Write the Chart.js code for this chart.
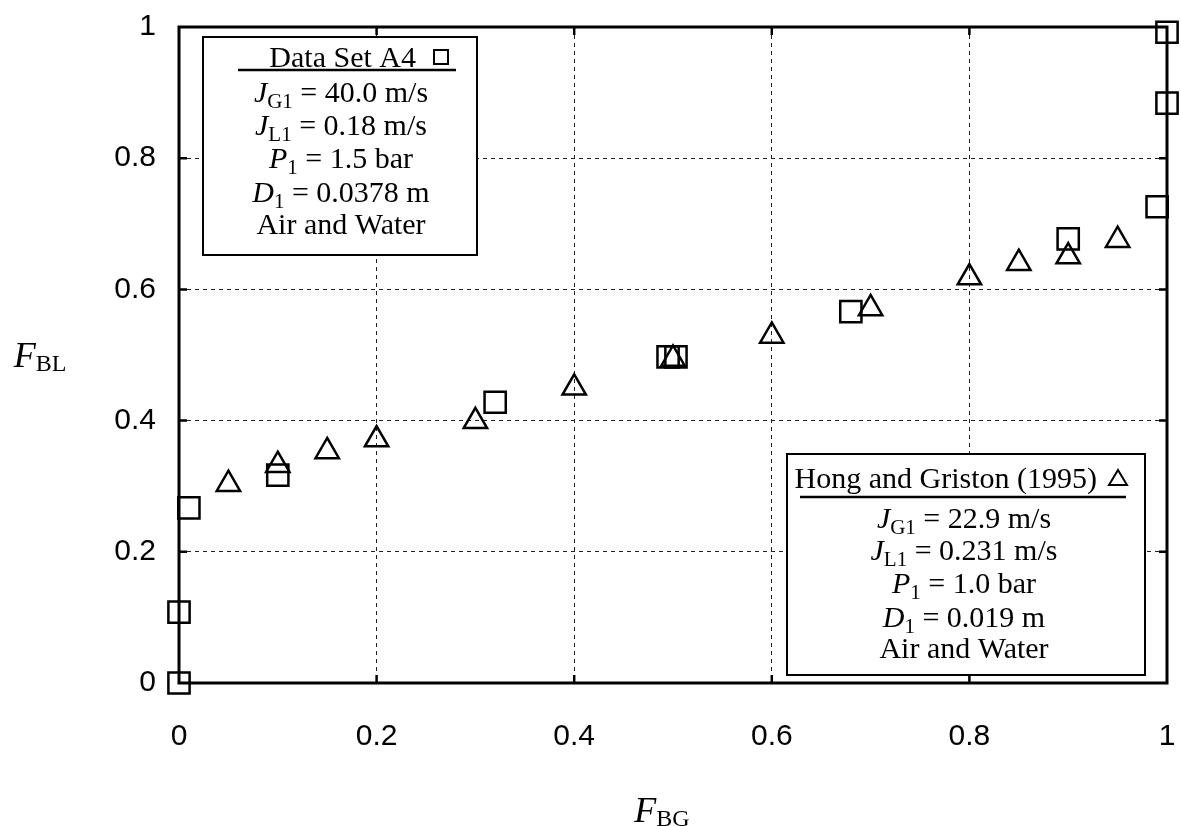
<!DOCTYPE html>
<html>
<head>
<meta charset="utf-8">
<script src="https://cdn.jsdelivr.net/npm/chart.js@4/dist/chart.umd.min.js"></script>
<style>
  body { margin: 0; background: #fff; }
</style>
</head>
<body>
<canvas id="chart" width="1181" height="826"></canvas>
<script>
// Data Set A4 (squares)
var a4X = [0, 0, 0.01, 0.1, 0.32, 0.495, 0.503, 0.68, 0.90, 0.99, 1.0, 1.0];
var a4Y = [0, 0.108, 0.267, 0.317, 0.428, 0.497, 0.497, 0.566, 0.677, 0.726, 0.884, 0.992];
// Hong and Griston (1995) (triangles)
var hgX = [0.05, 0.1, 0.15, 0.2, 0.3, 0.4, 0.5, 0.6, 0.7, 0.8, 0.85, 0.9, 0.95];
var hgY = [0.303, 0.332, 0.353, 0.371, 0.399, 0.450, 0.494, 0.529, 0.571, 0.618, 0.640, 0.650, 0.675];

var tickValues = [0, 0.2, 0.4, 0.6, 0.8, 1];
var tickLabels = ['0', '0.2', '0.4', '0.6', '0.8', '1'];

var box1Title = 'Data Set A4';
var box1Lines = [
  [['J', 'i'], ['G1', 's'], [' = 40.0 m/s', 'n']],
  [['J', 'i'], ['L1', 's'], [' = 0.18 m/s', 'n']],
  [['P', 'i'], ['1', 's'], [' = 1.5 bar', 'n']],
  [['D', 'i'], ['1', 's'], [' = 0.0378 m', 'n']],
  [['Air and Water', 'n']]
];
var box2Title = 'Hong and Griston (1995)';
var box2Lines = [
  [['J', 'i'], ['G1', 's'], [' = 22.9 m/s', 'n']],
  [['J', 'i'], ['L1', 's'], [' = 0.231 m/s', 'n']],
  [['P', 'i'], ['1', 's'], [' = 1.0 bar', 'n']],
  [['D', 'i'], ['1', 's'], [' = 0.019 m', 'n']],
  [['Air and Water', 'n']]
];

function pts(xs, ys) {
  return xs.map(function(x, i) { return {x: x, y: ys[i]}; });
}

var SERIF = '"Liberation Serif", "Times New Roman", serif';
var fonts = {
  i: 'italic 30px ' + SERIF,
  n: '30px ' + SERIF,
  s: '21px ' + SERIF,
  I: 'italic 36px ' + SERIF,
  S: '24px ' + SERIF
};

function drawRich(ctx, parts, cx, cy) {
  var w = 0;
  parts.forEach(function(p) { ctx.font = fonts[p[1]]; w += ctx.measureText(p[0]).width; });
  var x = cx - w / 2;
  ctx.textAlign = 'left';
  ctx.textBaseline = 'alphabetic';
  parts.forEach(function(p) {
    ctx.font = fonts[p[1]];
    var big = (p[1] === 'I' || p[1] === 'S');
    var base = cy + (big ? 12 : 10);
    var sub = (p[1] === 's') ? 6 : (p[1] === 'S' ? 4 : 0);
    ctx.fillText(p[0], x, base + sub);
    x += ctx.measureText(p[0]).width;
  });
}

function drawBox(ctx, b) {
  ctx.save();
  ctx.fillStyle = '#fff';
  ctx.fillRect(b.l, b.t, b.r - b.l, b.b - b.t);
  ctx.lineWidth = 2;
  ctx.strokeStyle = '#000';
  ctx.strokeRect(b.l, b.t, b.r - b.l, b.b - b.t);
  ctx.fillStyle = '#000';
  ctx.font = fonts.n;
  ctx.textAlign = 'right';
  ctx.textBaseline = 'alphabetic';
  ctx.fillText(b.title, b.titleRight, b.titleY + 10);
  // marker
  ctx.lineWidth = 2;
  if (b.marker === 'rect') {
    ctx.strokeRect(b.mx - 7, b.titleY - 7, 14, 14);
  } else {
    ctx.beginPath();
    ctx.moveTo(b.mx, b.titleY - 8);
    ctx.lineTo(b.mx + 9, b.titleY + 7);
    ctx.lineTo(b.mx - 9, b.titleY + 7);
    ctx.closePath();
    ctx.stroke();
  }
  ctx.lineWidth = 2.5;
  ctx.beginPath();
  ctx.moveTo(b.ul, b.uy);
  ctx.lineTo(b.ur, b.uy);
  ctx.stroke();
  b.lines.forEach(function(parts, i) {
    drawRich(ctx, parts, b.cx, b.ys[i]);
  });
  ctx.restore();
}

var framePlugin = {
  id: 'frame',
  afterDatasetsDraw: function(chart) {
    var ctx = chart.ctx, a = chart.chartArea;
    var xs = chart.scales.x, ys = chart.scales.y;
    ctx.save();
    ctx.strokeStyle = '#000';
    ctx.lineWidth = 3;
    ctx.strokeRect(a.left, a.top, a.right - a.left, a.bottom - a.top);
    ctx.lineWidth = 2.5;
    tickValues.slice(1, -1).forEach(function(v) {
      var px = xs.getPixelForValue(v), py = ys.getPixelForValue(v);
      ctx.beginPath();
      ctx.moveTo(px, a.bottom); ctx.lineTo(px, a.bottom - 8);
      ctx.moveTo(px, a.top); ctx.lineTo(px, a.top + 8);
      ctx.moveTo(a.left, py); ctx.lineTo(a.left + 8, py);
      ctx.moveTo(a.right, py); ctx.lineTo(a.right - 8, py);
      ctx.stroke();
    });
    ctx.restore();

    drawBox(ctx, {
      l: 203, t: 37, r: 477, b: 255,
      title: box1Title, titleRight: 416, titleY: 57, marker: 'rect', mx: 441,
      ul: 238, ur: 456, uy: 70, cx: 341,
      lines: box1Lines, ys: [92, 125, 158, 192, 224]
    });
    drawBox(ctx, {
      l: 787, t: 454, r: 1145, b: 675,
      title: box2Title, titleRight: 1097, titleY: 478, marker: 'tri', mx: 1118,
      ul: 800, ur: 1126, uy: 497, cx: 964,
      lines: box2Lines, ys: [518, 550, 583, 617, 648]
    });

    // axis titles
    ctx.save();
    ctx.fillStyle = '#000';
    drawRich(ctx, [['F', 'I'], ['BL', 'S']], 40, 355);
    drawRich(ctx, [['F', 'I'], ['BG', 'S']], 662, 810);
    ctx.restore();
  }
};

function gridColor(c) {
  var v = c.tick ? c.tick.value : null;
  return (v === 0 || v === 1) ? 'rgba(0,0,0,0)' : '#222';
}

function noPad(s) {
  s.paddingTop = 0; s.paddingBottom = 0; s.paddingLeft = 0; s.paddingRight = 0;
}

var ctx = document.getElementById('chart').getContext('2d');
var chart = new Chart(ctx, {
  type: 'scatter',
  data: {
    datasets: [{
      label: box1Title,
      data: pts(a4X, a4Y),
      pointStyle: 'rect',
      pointRadius: 15,
      borderColor: '#000',
      backgroundColor: 'rgba(0,0,0,0)',
      borderWidth: 2.5,
      clip: false
    }, {
      label: box2Title,
      data: pts(hgX, hgY),
      pointStyle: 'triangle',
      pointRadius: 13.5,
      borderColor: '#000',
      backgroundColor: 'rgba(0,0,0,0)',
      borderWidth: 2.5,
      clip: false
    }]
  },
  options: {
    responsive: false,
    animation: false,
    layout: { autoPadding: false, padding: { left: 0, top: 27, right: 14, bottom: 0 } },
    plugins: { legend: { display: false }, tooltip: { enabled: false } },
    scales: {
      x: {
        type: 'linear', min: 0, max: 1,
        afterBuildTicks: function(s) { s.ticks = tickValues.map(function(v) { return {value: v}; }); },
        afterFit: function(s) { s.height = 143; noPad(s); },
        grid: { color: gridColor, lineWidth: 1, drawTicks: false },
        border: { display: false, dash: [4, 4] },
        ticks: {
          padding: 36,
          color: '#000',
          font: { family: '"Liberation Sans", Arial, sans-serif', size: 30 },
          callback: function(v) { return tickLabels[tickValues.indexOf(v)]; }
        }
      },
      y: {
        type: 'linear', min: 0, max: 1,
        afterBuildTicks: function(s) { s.ticks = tickValues.map(function(v) { return {value: v}; }); },
        afterFit: function(s) { s.width = 179; noPad(s); },
        grid: { color: gridColor, lineWidth: 1, drawTicks: false },
        border: { display: false, dash: [4, 4] },
        ticks: {
          padding: 23,
          color: '#000',
          font: { family: '"Liberation Sans", Arial, sans-serif', size: 30 },
          callback: function(v) { return tickLabels[tickValues.indexOf(v)]; }
        }
      }
    }
  },
  plugins: [framePlugin]
});
</script>
</body>
</html>
